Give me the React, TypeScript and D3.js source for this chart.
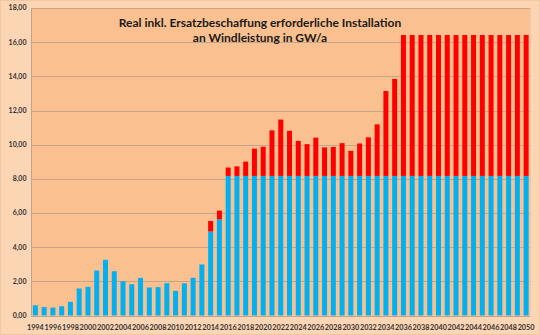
import React from "react";
import * as d3 from "d3";

const years: number[] = d3.range(1994, 2051);

// new installation (blue)
const neuInstallation: number[] = [
  0.6, 0.49, 0.46, 0.54, 0.8, 1.58, 1.68, 2.63, 3.26, 2.59,
  2.01, 1.83, 2.2, 1.64, 1.66, 1.89, 1.44, 1.88, 2.21, 2.99,
  4.92, 5.63,
  8.17, 8.17, 8.17, 8.17, 8.17, 8.17, 8.17, 8.17, 8.17, 8.17,
  8.17, 8.17, 8.17, 8.17, 8.17, 8.17, 8.17, 8.17, 8.17, 8.17,
  8.17, 8.17, 8.17, 8.17, 8.17, 8.17, 8.17, 8.17, 8.17, 8.17,
  8.17, 8.17, 8.17, 8.17, 8.17,
];

// replacement (red)
const ersatz: number[] = [
  0, 0, 0, 0, 0, 0, 0, 0, 0, 0,
  0, 0, 0, 0, 0, 0, 0, 0, 0, 0,
  0.61, 0.51,
  0.49, 0.56, 0.84, 1.6, 1.71, 2.67, 3.3, 2.64, 2.05, 1.86,
  2.24, 1.67, 1.7, 1.92, 1.47, 1.9, 2.26, 3.02, 4.97, 5.68,
  8.25, 8.25, 8.25, 8.25, 8.25, 8.25, 8.25, 8.25, 8.25, 8.25,
  8.25, 8.25, 8.25, 8.25, 8.25,
];

const yTicks: number[] = [0, 2, 4, 6, 8, 10, 12, 14, 16, 18];
const titleLines: string[] = [
  "Real inkl. Ersatzbeschaffung erforderliche Installation",
  "an Windleistung in GW/a",
];

const W = 540;
const H = 335;
const plot = { left: 31, right: 530.5, top: 8, bottom: 315.5 };
const FONT = "Lato, 'Open Sans', sans-serif";

export default function App() {
  const x = d3
    .scaleBand<number>()
    .domain(years)
    .range([plot.left, plot.right])
    .paddingInner(0.43)
    .paddingOuter(0.215);
  const y = d3.scaleLinear().domain([0, 18]).range([plot.bottom, plot.top]);
  const fmt = (v: number) => v.toFixed(2).replace(".", ",");

  return (
    <svg
      width={W}
      height={H}
      style={{ position: "absolute", left: 0, top: 0, display: "block" }}
    >
      <rect x={0} y={0} width={W} height={H} fill="#FCD5B4" />
      <rect x={0.5} y={0.5} width={W - 1} height={H - 1} fill="none" stroke="#F0C8A4" />
      <rect
        x={plot.left}
        y={plot.top}
        width={plot.right - plot.left}
        height={plot.bottom - plot.top}
        fill="#FAC08F"
      />
      {yTicks.map((t) => (
        <line
          key={"g" + t}
          x1={plot.left}
          x2={plot.right}
          y1={Math.round(y(t)) + 0.5}
          y2={Math.round(y(t)) + 0.5}
          stroke="#C3A58C"
          strokeWidth={1}
        />
      ))}
      <line
        x1={plot.left + 0.5}
        x2={plot.left + 0.5}
        y1={plot.top}
        y2={plot.bottom}
        stroke="#BFA38C"
      />
      <line
        x1={plot.right - 0.5}
        x2={plot.right - 0.5}
        y1={plot.top}
        y2={plot.bottom}
        stroke="#F2C9A2"
      />
      {years.map((yr, i) => {
        const bx = x(yr) as number;
        const bw = x.bandwidth();
        const b = neuInstallation[i];
        const r = ersatz[i];
        return (
          <g key={yr}>
            <rect x={bx} y={y(b)} width={bw} height={y(0) - y(b)} fill="#00B0F0" />
            {r > 0 && (
              <rect x={bx} y={y(b + r)} width={bw} height={y(b) - y(b + r)} fill="#FF0000" />
            )}
          </g>
        );
      })}
      {yTicks.map((t) => (
        <text
          key={"yl" + t}
          x={26.5}
          y={y(t)}
          dy="0.35em"
          textAnchor="end"
          fontFamily={FONT}
          fontWeight={700}
          fontSize={7}
          fill="#333"
        >
          {fmt(t)}
        </text>
      ))}
      {years
        .filter((yr) => yr % 2 === 0)
        .map((yr) => (
          <text
            key={"xl" + yr}
            x={(x(yr) as number) + x.bandwidth() / 2}
            y={329.5}
            textAnchor="middle"
            fontFamily={FONT}
            fontWeight={700}
            fontSize={7.3}
            fill="#333"
          >
            {yr}
          </text>
        ))}
      {titleLines.map((l, i) => (
        <text
          key={"t" + i}
          x={260}
          y={27 + i * 15}
          textAnchor="middle"
          fontFamily={FONT}
          fontWeight={700}
          fontSize={12}
          fill="#1a1a1a"
        >
          {l}
        </text>
      ))}
    </svg>
  );
}
